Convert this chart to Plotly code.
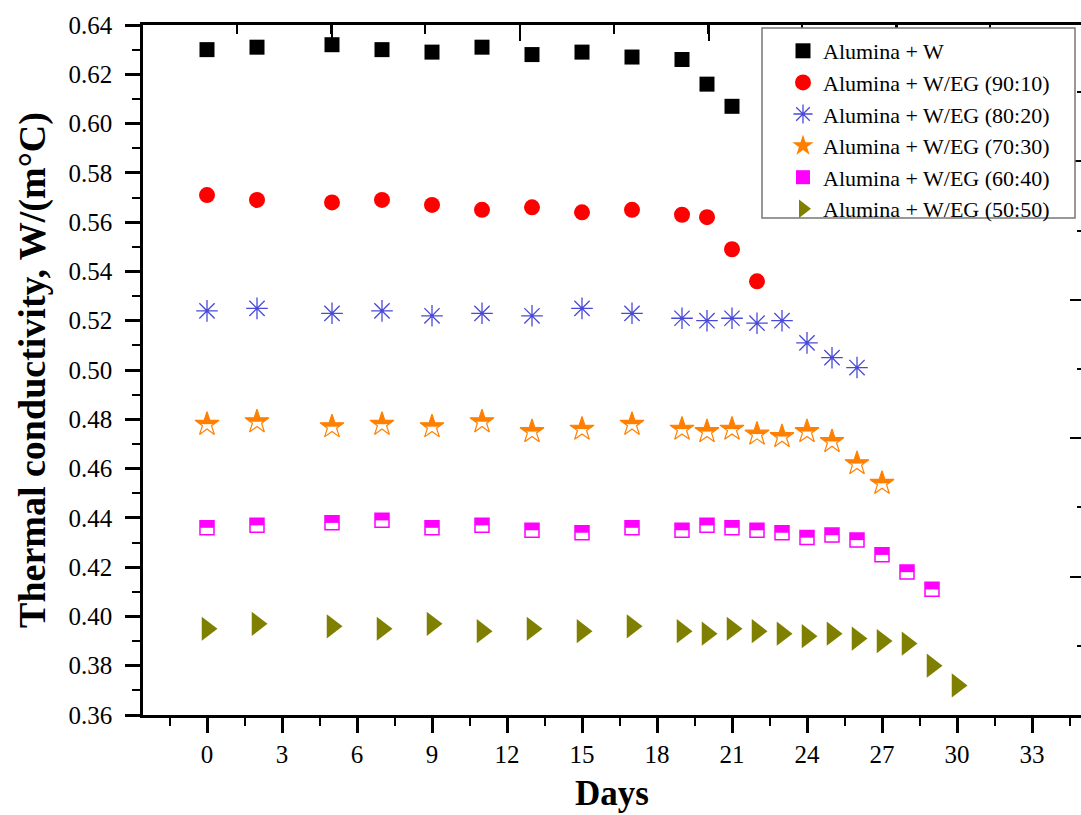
import plotly.graph_objects as go

# Storage time (days) for each nanofluid
days_w = [0, 2, 5, 7, 9, 11, 13, 15, 17, 19, 20, 21]
k_w = [0.630, 0.631, 0.632, 0.630, 0.629, 0.631, 0.628, 0.629, 0.627, 0.626, 0.616, 0.607]

days_90 = [0, 2, 5, 7, 9, 11, 13, 15, 17, 19, 20, 21, 22]
k_90 = [0.571, 0.569, 0.568, 0.569, 0.567, 0.565, 0.566, 0.564, 0.565, 0.563, 0.562, 0.549, 0.536]

days_80 = [0, 2, 5, 7, 9, 11, 13, 15, 17, 19, 20, 21, 22, 23, 24, 25, 26]
k_80 = [0.524, 0.525, 0.523, 0.524, 0.522, 0.523, 0.522, 0.525, 0.523, 0.521, 0.520, 0.521,
        0.519, 0.520, 0.511, 0.505, 0.501]

days_70 = [0, 2, 5, 7, 9, 11, 13, 15, 17, 19, 20, 21, 22, 23, 24, 25, 26, 27]
k_70 = [0.478, 0.479, 0.477, 0.478, 0.477, 0.479, 0.475, 0.476, 0.478, 0.476, 0.475, 0.476,
        0.474, 0.473, 0.475, 0.471, 0.462, 0.454]

days_60 = [0, 2, 5, 7, 9, 11, 13, 15, 17, 19, 20, 21, 22, 23, 24, 25, 26, 27, 28, 29]
k_60 = [0.436, 0.437, 0.438, 0.439, 0.436, 0.437, 0.435, 0.434, 0.436, 0.435, 0.437, 0.436,
        0.435, 0.434, 0.432, 0.433, 0.431, 0.425, 0.418, 0.411]

days_50 = [0, 2, 5, 7, 9, 11, 13, 15, 17, 19, 20, 21, 22, 23, 24, 25, 26, 27, 28, 29, 30]
k_50 = [0.395, 0.397, 0.396, 0.395, 0.397, 0.394, 0.395, 0.394, 0.396, 0.394, 0.393, 0.395,
        0.394, 0.393, 0.392, 0.393, 0.391, 0.390, 0.389, 0.380, 0.372]

names = ["Alumina + W", "Alumina + W/EG (90:10)", "Alumina + W/EG (80:20)",
         "Alumina + W/EG (70:30)", "Alumina + W/EG (60:40)", "Alumina + W/EG (50:50)"]

FONT = "Liberation Serif, Times New Roman, serif"
W, H = 1081, 815
ML, MR, MT, MB = 143, 0, 25, 100
PW, PH = W - ML - MR, H - MT - MB
Y0, Y1 = 0.36, 0.64
X0, X1 = -2.56, 34.96
px_per_y = PH / (Y1 - Y0)

ORANGE, MAGENTA = "#ff8000", "#ff00ff"

fig = go.Figure()

# Plain symbols
fig.add_trace(go.Scatter(x=days_w, y=k_w, mode="markers", name=names[0],
                         marker=dict(symbol="square", size=15, color="black")))
fig.add_trace(go.Scatter(x=days_90, y=k_90, mode="markers", name=names[1],
                         marker=dict(symbol="circle", size=16, color="#ff0000")))
fig.add_trace(go.Scatter(x=days_80, y=k_80, mode="markers", name=names[2],
                         marker=dict(symbol="asterisk-open", size=18, color="#4a4ad8",
                                     line=dict(width=1.3, color="#4a4ad8"))))

# Half-filled star: filled star, lower half masked (y3), outline on top (y5)
fig.add_trace(go.Scatter(x=days_70, y=k_70, mode="markers", name=names[3],
                         marker=dict(symbol="star", size=18, color=ORANGE,
                                     line=dict(width=0))))
fig.add_trace(go.Scatter(x=days_70, y=k_70, mode="markers", showlegend=False, yaxis="y3",
                         hoverinfo="skip",
                         marker=dict(symbol="line-ew", size=22, color="white",
                                     line=dict(width=10, color="white"))))
fig.add_trace(go.Scatter(x=days_70, y=k_70, mode="markers", showlegend=False, yaxis="y5",
                         hoverinfo="skip",
                         marker=dict(symbol="star-open", size=18, color=ORANGE,
                                     line=dict(width=1.2, color=ORANGE))))

# Half-filled square: filled square, lower half masked (y4), outline on top (y6)
fig.add_trace(go.Scatter(x=days_60, y=k_60, mode="markers", name=names[4],
                         marker=dict(symbol="square", size=14, color=MAGENTA,
                                     line=dict(width=0))))
fig.add_trace(go.Scatter(x=days_60, y=k_60, mode="markers", showlegend=False, yaxis="y4",
                         hoverinfo="skip",
                         marker=dict(symbol="line-ew", size=13, color="white",
                                     line=dict(width=7, color="white"))))
fig.add_trace(go.Scatter(x=days_60, y=k_60, mode="markers", showlegend=False, yaxis="y6",
                         hoverinfo="skip",
                         marker=dict(symbol="square-open", size=14, color=MAGENTA,
                                     line=dict(width=1.5, color=MAGENTA))))

fig.add_trace(go.Scatter(x=days_50, y=k_50, mode="markers", name=names[5],
                         marker=dict(symbol="triangle-right", size=21, color="#808000")))


def shifted(px_down):
    d = px_down / px_per_y
    return [Y0 + d, Y1 + d]


def px_x(p):
    return (p - ML) / PW


def px_y(p):
    return (H - MB - p) / PH


tickfont = dict(family=FONT, size=25, color="black")
fig.update_layout(
    width=W, height=H,
    margin=dict(l=ML, r=MR, t=MT, b=MB),
    paper_bgcolor="white", plot_bgcolor="white",
    showlegend=True,
    legend=dict(x=px_x(783), y=px_y(30), xanchor="left", yanchor="top",
                bgcolor="rgba(0,0,0,0)", borderwidth=0,
                font=dict(family=FONT, size=22, color="black"),
                itemsizing="trace", tracegroupgap=0),
    xaxis=dict(range=[X0, X1], tickmode="linear", tick0=0, dtick=3,
               ticks="outside", ticklen=15, tickwidth=2.5, tickcolor="black",
               minor=dict(dtick=1.5, tick0=0, ticks="outside", ticklen=8, tickwidth=2,
                          tickcolor="black"),
               showline=True, linewidth=2.5, linecolor="black", showgrid=False,
               zeroline=False, tickfont=tickfont, ticklabelstandoff=0,
               title=dict(text="<b>Days</b>", font=dict(family=FONT, size=35, color="black"),
                          standoff=14)),
    yaxis=dict(range=[Y0, Y1], tickmode="linear", tick0=0.36, dtick=0.02, tickformat=".2f",
               ticks="outside", ticklen=15, tickwidth=2.5, tickcolor="black",
               minor=dict(dtick=0.01, ticks="outside", ticklen=8, tickwidth=2,
                          tickcolor="black"),
               showline=True, linewidth=2.5, linecolor="black", showgrid=False,
               zeroline=False, tickfont=tickfont, ticklabelstandoff=8,
               title=dict(text="<b>Thermal conductivity, W/(m°C)</b>",
                          font=dict(family=FONT, size=38, color="black"), standoff=12)),
    # frame edge along the top, with its own inward ticks
    xaxis2=dict(overlaying="x", side="top", anchor="y", range=[0, PW],
                tickmode="linear", tick0=189, dtick=188.3,
                ticks="inside", ticklen=16, tickwidth=2, tickcolor="black",
                minor=dict(dtick=94.15, ticks="inside", ticklen=9, tickwidth=2,
                           tickcolor="black"),
                showline=True, linewidth=2.5, linecolor="black", showgrid=False,
                zeroline=False, showticklabels=False),
    # inward ticks along the right-hand edge
    yaxis2=dict(overlaying="y", side="right", anchor="x", range=[0, PH],
                tickmode="linear", tick0=138.4, dtick=138.4,
                ticks="inside", ticklen=11, tickwidth=2, tickcolor="black",
                minor=dict(dtick=69.2, ticks="inside", ticklen=4, tickwidth=2,
                           tickcolor="black"),
                showline=False, showgrid=False, zeroline=False, showticklabels=False),
    yaxis3=dict(overlaying="y", range=shifted(5.0), visible=False),
    yaxis4=dict(overlaying="y", range=shifted(3.6), visible=False),
    yaxis5=dict(overlaying="y", range=[Y0, Y1], visible=False),
    yaxis6=dict(overlaying="y", range=[Y0, Y1], visible=False),
    # legend frame
    shapes=[dict(type="rect", xref="paper", yref="paper",
                 x0=px_x(762), x1=px_x(1075), y0=px_y(218), y1=px_y(28),
                 line=dict(color="#777777", width=1.5), fillcolor="white", layer="above")],
)

# an invisible trace keeps the top/right tick axes drawn
fig.add_trace(go.Scatter(x=[None], y=[None], xaxis="x2", yaxis="y2", showlegend=False,
                         hoverinfo="skip"))

fig.write_html("out.html")
